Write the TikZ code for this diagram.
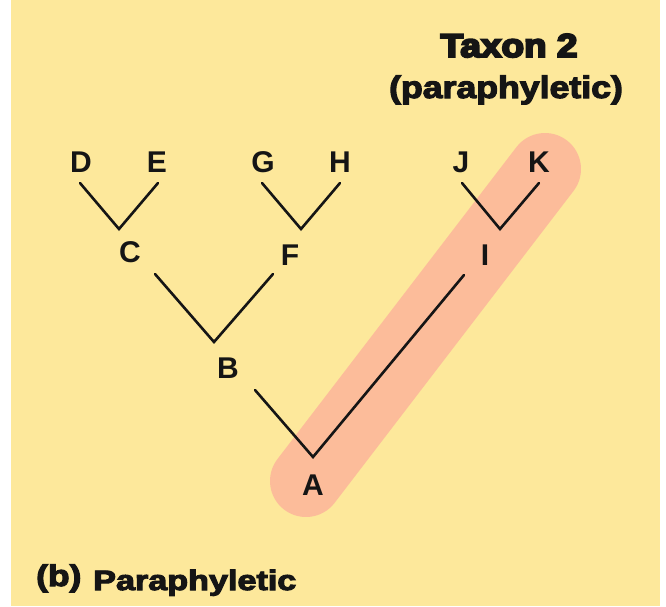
\documentclass[tikz,border=0pt]{standalone}
\usepackage{fontspec}
\setmainfont{Liberation Sans}
\newfontfamily\heavyfont[FakeBold=6]{Liberation Sans Bold}
\newfontfamily\semiheavyfont[FakeBold=3.5]{Liberation Sans Bold}
\definecolor{bgyellow}{HTML}{FDE89B}
\definecolor{bandpink}{HTML}{FCBC9A}
\definecolor{ink}{HTML}{151515}
\begin{document}
\begin{tikzpicture}[x=1pt,y=-1pt,
  lbl/.style={font=\bfseries\fontsize{30}{30}\selectfont, anchor=base, inner sep=0pt, text=ink},
  branch/.style={draw=ink, line width=2.6pt, line cap=round, line join=miter},
  band/.style={draw=bandpink, line width=72pt, line cap=round},
  titletext/.style={anchor=base, inner sep=0pt, text=ink}]
\useasboundingbox (0,0) rectangle (666,606);
\fill[bgyellow] (11,0) rectangle (660,606);
% highlight band
\coordinate (bandA) at (306,481);
\coordinate (bandK) at (545,169);
\draw[band] (bandA) -- (bandK);
% labels
\node[lbl] (D) at (81,172) {D};
\node[lbl] (E) at (157,172) {E};
\node[lbl] (G) at (263,172) {G};
\node[lbl] (H) at (340,172) {H};
\node[lbl] (J) at (461,172) {J};
\node[lbl] (K) at (539,172) {K};
\node[lbl] (C) at (130,262) {C};
\node[lbl] (F) at (290,265) {F};
\node[lbl] (I) at (485,265) {I};
\node[lbl] (B) at (228,378) {B};
\node[lbl] (A) at (313,495) {A};
% branch points and tips
\coordinate (tD) at (80,183);
\coordinate (tE) at (158,183);
\coordinate (vC) at (119,229);
\coordinate (tG) at (262,183);
\coordinate (tH) at (340,183);
\coordinate (vF) at (301,229);
\coordinate (tJ) at (462,183);
\coordinate (tK) at (539,183);
\coordinate (vI) at (500,229);
\coordinate (tC) at (155,274);
\coordinate (tF) at (273,274);
\coordinate (vB) at (214,342);
\coordinate (tB) at (255,390);
\coordinate (tI) at (464,275);
\coordinate (vA) at (313,457);
\draw[branch] (tD) -- (vC) -- (tE);
\draw[branch] (tG) -- (vF) -- (tH);
\draw[branch] (tJ) -- (vI) -- (tK);
\draw[branch] (tC) -- (vB) -- (tF);
\draw[branch] (tB) -- (vA) -- (tI);
% titles
\node[titletext, font=\heavyfont\fontsize{33}{33}\selectfont] (title) at (509,57) {\scalebox{1.12}[1]{Taxon 2}};
\node[titletext, font=\semiheavyfont\fontsize{31}{31}\selectfont] (subtitle) at (506,98) {\scalebox{1.15}[1]{(paraphyletic)}};
\node[titletext, anchor=base west, font=\semiheavyfont\fontsize{30}{30}\selectfont] (panel) at (36,586) {\scalebox{1.18}[1]{(b)}};
\node[titletext, anchor=base west, font=\semiheavyfont\fontsize{28}{28}\selectfont] (caption) at (93,590) {\scalebox{1.22}[1]{Paraphyletic}};
\end{tikzpicture}
\end{document}
